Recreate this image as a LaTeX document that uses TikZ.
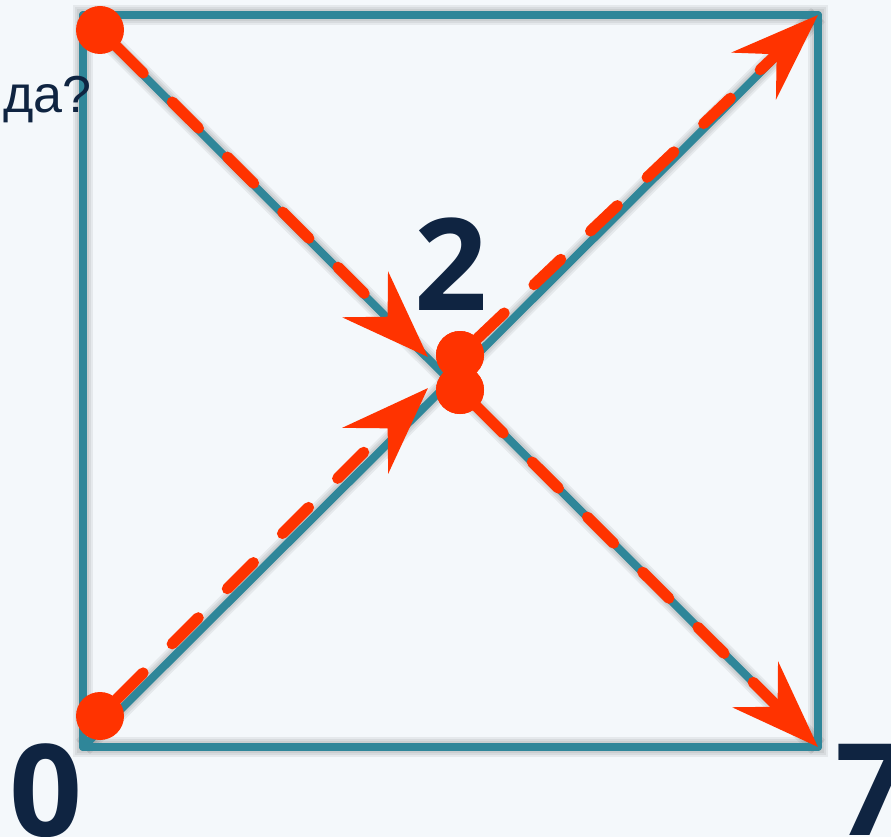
\documentclass[tikz,border=0pt]{standalone}
\usepackage{fontspec}
\setmainfont{Liberation Sans}
\newfontfamily\ziffernschrift{Open Sans}
\usetikzlibrary{arrows.meta}
\definecolor{petrol}{HTML}{2F8699}
\definecolor{signalrot}{HTML}{FF3300}
\definecolor{nachtblau}{HTML}{0F2441}
\definecolor{hintergrund}{HTML}{F4F8FB}
\begin{document}
\begin{tikzpicture}[x=1pt, y=-1pt,
		kante/.style={petrol, line width=8pt, line cap=round, line join=round},
		schatten/.style={black, opacity=0.06, line width=#1},
		punkt/.style={circle, fill=signalrot, minimum size=48pt, inner sep=0pt, outer sep=0pt},
		weg/.style={signalrot, line width=11pt, line cap=round, dash pattern=on 37pt off 41pt,
			-{Stealth[length=88pt, width=64pt, inset=31pt]}},
		ziffer/.style={nachtblau, inner sep=0pt, font=\ziffernschrift\bfseries\fontsize{128}{128}\selectfont}]
		% Hintergrund und Bildbereich
		\fill[hintergrund] (0,0) rectangle (891,837);
		\useasboundingbox (0,0) rectangle (891,837);
		% Ecken des Quadrats
		\coordinate (lo) at (83,15);
		\coordinate (ro) at (818,15);
		\coordinate (ru) at (818,747);
		\coordinate (lu) at (83,747);
		% Schatten
		\foreach \b in {12pt,16pt,20pt} {
			\draw[schatten=\b] (lo) rectangle (ru);
			\draw[schatten=\b] (lo) -- (ru);
			\draw[schatten=\b] (lu) -- (ro);
		}
		% Quadrat mit Diagonalen
		\draw[kante] (lo) rectangle (ru);
		\draw[kante] (lo) -- (ru);
		\draw[kante] (lu) -- (ro);
		% Punkte
		\node[punkt] (p1) at (100,30) {};
		\node[punkt] (p2) at (100,716) {};
		\node[punkt] (p3) at (460,355) {};
		\node[punkt] (p4) at (460,390) {};
		% Pfeilspitzen in der Mitte
		\coordinate (z1) at (428,357);
		\coordinate (z2) at (428,388);
		% Wege
		\draw[weg] (p1) -- (z1);
		\draw[weg] (p2) -- (z2);
		\draw[weg] (p3) -- (ro);
		\draw[weg] (p4) -- (ru);
		\node[punkt] at (p3) {};
		\node[punkt] at (p4) {};
		% Beschriftung
		\node[ziffer, anchor=base] (n2) at (451,310) {2};
		\node[ziffer, anchor=base] (n0) at (46,836) {0};
		\node[ziffer, anchor=base] (n7) at (872,835) {7};
		\node[nachtblau, inner sep=0pt, anchor=base east, font=\fontsize{52}{52}\selectfont] (frage) at (92,113) {да?};
	\end{tikzpicture}
\end{document}
